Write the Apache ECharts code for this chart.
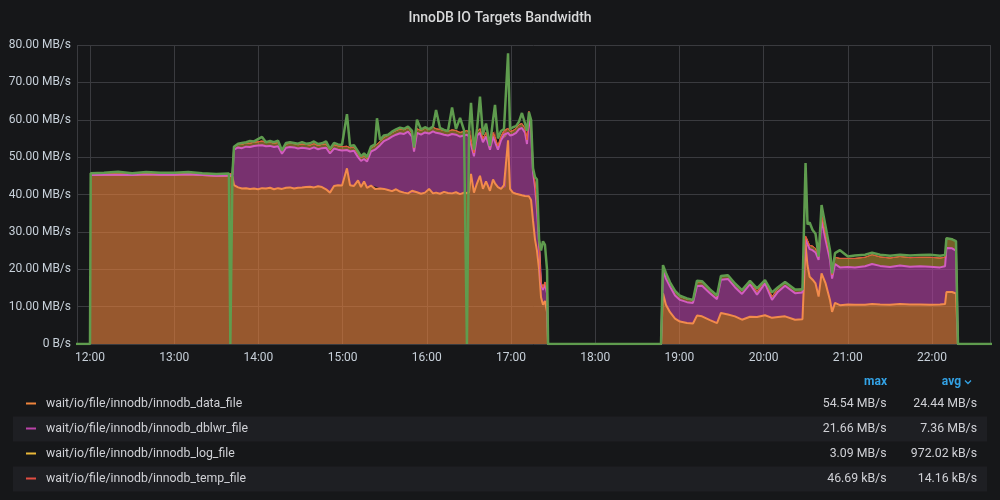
<!DOCTYPE html>
<html>
<head>
<meta charset="utf-8">
<script src="https://cdn.jsdelivr.net/npm/echarts@6/dist/echarts.min.js"></script>
<style>
html,body{margin:0;padding:0;background:#161719;}
#chart{width:1000px;height:500px;}
</style>
</head>
<body>
<div id="chart"></div>
<script>
// ---- data (MB/s) ----
const times = [
  // 12:00 - 13:42
  '11:50:00','12:00:00','12:00:30','12:10:00','12:20:00','12:30:00','12:40:00','12:50:00','13:00:00','13:10:00','13:20:00','13:30:00','13:39:00','13:40:00','13:41:30','13:42:36',
  // 13:45 - 15:00
  '13:45:30','13:48:18','13:51:12','13:54:00','13:56:54','13:59:42','14:02:36','14:05:24','14:08:18','14:11:06','14:14:00','14:16:48','14:19:42','14:22:30','14:25:24','14:28:12','14:31:06','14:33:54','14:36:48','14:39:36','14:42:30','14:45:18','14:48:12','14:51:00','14:53:54','14:56:42','14:59:36',
  // 15:00 - 16:30
  '15:03:06','15:05:18','15:08:06','15:11:00','15:13:06','15:15:18','15:17:24','15:20:12','15:23:06','15:24:30','15:26:42','15:29:30','15:32:24','15:35:12','15:38:06','15:40:54','15:43:48','15:46:36','15:49:30','15:50:54','15:53:00','15:55:54','15:58:42','16:01:36','16:04:24','16:06:36','16:09:24','16:12:18','16:15:06','16:18:00','16:20:48','16:23:42','16:26:30','16:28:36','16:30:06',
  // 16:30 - 17:26
  '16:31:30','16:33:36','16:35:48','16:37:54','16:40:00','16:42:12','16:45:00','16:47:12','16:48:36','16:50:42','16:52:54','16:55:00','16:56:24','16:57:54','16:59:18','17:01:24','17:03:36','17:05:42','17:07:48','17:10:00','17:11:24','17:12:48','17:14:18','17:15:42','17:17:06','17:18:30','17:20:00','17:21:24','17:22:48','17:24:12','17:25:42','17:26:24',
  // idle
  '18:46:54',
  // 18:48 - 20:28
  '18:48:18','18:50:24','18:53:18','18:56:54','19:00:24','19:05:24','19:09:42','19:12:30','19:16:06','19:21:48','19:26:48','19:29:36','19:34:36','19:39:36','19:44:36','19:50:18','19:55:18','20:01:00','20:06:00','20:10:18','20:15:18','20:22:24','20:27:42',
  // 20:30 - end
  '20:29:54','20:31:18','20:32:48','20:34:54','20:37:00','20:39:12','20:41:18','20:44:12','20:47:18','20:48:48','20:50:54','20:54:24','21:00:06','21:05:06','21:12:18','21:17:18','21:23:00','21:30:06','21:37:12','21:44:18','21:51:30','21:58:36','22:05:42','22:09:18','22:10:18','22:14:18','22:17:06','22:18:30','22:45:00'
];

const dataFile = [
  null,45.2,45.2,45.3,45.3,45.2,45.4,45.3,45.3,45.4,45.2,45.0,45.1,45.1,44.8,42.5,
  41.9,41.6,41.7,41.5,41.6,41.4,41.7,41.6,41.8,41.4,41.7,41.5,41.8,41.9,41.6,41.8,41.9,42.0,42.1,41.9,42.2,42.0,41.4,40.5,42.3,42.5,42.4,
  47.0,42.5,42.3,43.8,42.0,43.5,41.8,42.4,41.5,42.0,41.6,41.5,41.2,40.9,41.4,40.8,40.5,40.3,41.0,40.5,40.6,40.2,40.5,41.5,40.3,40.5,40.2,40.7,40.4,40.3,40.6,40.1,40.5,40.4,40.6,
  45.5,40.5,43.0,45.0,41.5,43.5,41.0,44.0,43.0,42.0,41.5,42.5,42.0,54.5,41.5,40.5,40.2,40.0,39.8,39.6,39.5,39.5,38.5,33.0,28.0,25.0,20.0,12.5,10.5,11.5,8.5,0,
  0,
  13.6,10.5,8.5,6.8,6.0,5.6,5.5,7.6,7.4,6.4,5.6,8.3,7.9,7.4,6.5,7.3,7.2,7.7,7.0,7.2,7.4,6.5,6.6,
  26.5,21.0,18.0,17.2,16.2,12.7,18.9,16.2,11.8,8.6,11.0,10.4,10.6,10.5,10.5,10.7,10.6,10.5,10.7,10.6,10.6,10.5,10.6,10.7,13.9,13.9,13.5,0,0
];

const dblwrFile = [
  null,0,0,0,0,0,0,0,0,0,0,0,0,0,0.5,9.5,
  10.7,10.8,11.1,11.2,11.4,11.7,11.5,11.3,11.2,11.3,11.2,9.4,10.7,10.8,11.0,10.5,10.6,10.4,10.1,10.7,9.9,10.4,11.1,10.5,10.0,9.5,9.4,
  4.9,9.0,9.4,6.2,7.0,6.0,7.0,9.1,10.5,10.5,11.6,12.8,13.6,14.6,14.6,15.6,15.7,16.5,14.5,11.0,15.9,15.8,16.1,14.8,16.6,16.0,16.1,15.3,15.4,15.9,15.4,15.4,15.3,15.6,14.9,
  10.5,9.7,12.8,11.5,12.5,12.0,11.0,11.5,13.0,10.0,13.0,13.5,13.5,2.0,14.3,15.5,16.3,17.5,18.0,16.9,14.0,21.5,18.5,13.0,14.0,11.0,7.0,3.5,4.0,4.5,5.0,0,
  0,
  6.2,7.0,6.9,6.2,5.8,5.6,5.5,7.9,8.2,7.2,6.4,8.9,9.5,7.8,6.9,8.7,6.0,8.5,4.8,6.8,8.2,7.1,7.2,
  1.5,6.5,7.4,7.9,8.3,9.8,14.3,11.6,10.7,8.9,10.4,10.1,10.0,10.0,10.3,10.7,10.3,10.1,10.3,10.1,10.2,10.2,9.9,10.1,11.8,11.7,11.5,0,0
];

const logFile = [
  null,0.4,0.4,0.4,0.5,0.4,0.4,0.4,0.4,0.5,0.4,0.4,0.4,0.4,0.4,0.8,
  1.0,1.0,1.0,1.0,1.0,1.0,1.1,1.0,1.0,1.0,1.0,0.9,1.0,1.0,1.0,1.0,1.0,1.0,1.0,1.0,1.0,1.0,1.0,0.9,1.0,1.0,1.0,
  1.0,1.0,1.0,0.9,0.8,0.9,0.8,1.0,1.0,1.0,1.0,1.0,1.0,1.0,1.1,1.1,1.1,1.1,1.0,0.9,1.1,1.1,1.1,1.1,1.1,1.1,1.1,1.1,1.1,1.1,1.1,1.1,1.1,1.1,1.1,
  1.1,0.9,1.0,1.1,1.0,1.1,0.9,1.1,1.1,1.0,1.1,1.1,1.1,1.2,1.1,1.1,1.2,1.2,1.2,1.2,1.1,1.2,1.2,1.0,1.0,1.0,0.8,0.6,0.6,0.6,0.5,0,
  0,
  1.1,1.1,1.0,1.0,0.9,0.8,0.8,1.1,1.0,0.9,0.8,1.0,1.0,0.9,0.9,0.9,0.9,0.9,0.9,0.9,0.9,0.9,0.9,
  0.9,0.9,1.0,1.1,1.1,0.9,1.5,1.4,1.3,1.0,1.8,2.4,2.3,2.4,2.4,2.5,2.4,2.4,2.4,2.4,2.4,2.5,2.5,2.4,2.6,2.5,2.5,0,0
];

const tempFile = [
  null,0.01,0.01,0.01,0.01,0.01,0.01,0.01,0.01,0.01,0.01,0.01,0.01,0.01,0.01,0.02,
  0.02,0.02,0.02,0.02,0.02,0.02,0.02,0.02,0.02,0.02,0.02,0.02,0.02,0.02,0.02,0.02,0.02,0.02,0.02,0.02,0.02,0.02,0.02,0.02,0.02,0.02,0.02,
  0.03,0.02,0.02,0.02,0.02,0.02,0.02,0.02,0.02,0.03,0.02,0.02,0.02,0.02,0.02,0.02,0.02,0.02,0.02,0.02,0.02,0.02,0.02,0.02,0.02,0.03,0.02,0.02,0.02,0.03,0.02,0.02,0.02,0.02,0.02,
  0.03,0.02,0.02,0.04,0.02,0.02,0.02,0.02,0.03,0.02,0.02,0.02,0.02,0.05,0.02,0.02,0.02,0.02,0.02,0.02,0.02,0.02,0.02,0.02,0.01,0.01,0.01,0.01,0.01,0.01,0.01,0,
  0,
  0.01,0.01,0.01,0.01,0.01,0.01,0.01,0.01,0.01,0.01,0.01,0.01,0.01,0.01,0.01,0.01,0.01,0.01,0.01,0.01,0.01,0.01,0.01,
  0.02,0.01,0.01,0.01,0.01,0.01,0.01,0.01,0.01,0.01,0.01,0.01,0.01,0.01,0.01,0.01,0.01,0.01,0.01,0.01,0.01,0.01,0.01,0.01,0.01,0.01,0.01,0,0
];

// total bandwidth line drawn on top
const totalLine = [
  0,0,45.7,45.8,46.1,45.7,46.0,45.8,45.8,46.0,45.7,45.5,45.6,0,45.6,52.8,
  53.6,53.8,54.0,54.3,54.2,54.8,55.4,54.0,54.3,54.0,54.4,51.8,53.8,54.0,53.8,53.6,54.0,53.6,53.7,54.2,53.5,53.7,54.2,52.2,53.8,53.4,53.3,
  61.5,53.0,53.2,51.5,50.2,51.0,50.0,52.8,53.4,60.4,54.6,55.8,56.0,56.8,57.4,57.9,57.6,58.2,57.0,52.6,60.0,57.4,58.0,57.5,58.2,62.6,57.8,57.3,57.0,63.3,57.5,60.5,57.2,0,57.0,
  64.5,52.0,57.6,66.2,56.0,59.0,53.0,60.0,64.0,55.0,57.0,57.5,57.5,77.8,57.5,58.0,58.3,59.5,61.8,59.0,57.0,62.0,60.0,47.0,44.7,44.0,28.0,25.0,27.5,26.5,19.8,0,
  0,
  21.1,19.0,16.5,14.2,12.9,12.2,11.8,16.9,16.8,14.6,13.0,18.2,18.4,16.2,14.4,16.9,14.9,17.1,13.8,15.2,16.6,14.6,14.6,
  48.4,32.0,32.5,30.5,29.5,23.4,37.2,31.4,25.1,18.9,24.3,25.1,23.4,23.7,23.9,24.4,23.9,23.6,23.9,23.7,23.8,23.9,23.6,23.8,28.3,28.0,27.5,0,0
];

const seriesNames = [
  'wait/io/file/innodb/innodb_data_file',
  'wait/io/file/innodb/innodb_dblwr_file',
  'wait/io/file/innodb/innodb_log_file',
  'wait/io/file/innodb/innodb_temp_file'
];
const legendMax = ['54.54 MB/s','21.66 MB/s','3.09 MB/s','46.69 kB/s'];
const legendAvg = ['24.44 MB/s','7.36 MB/s','972.02 kB/s','14.16 kB/s'];
const titleText = 'InnoDB IO Targets Bandwidth';

// ---- helpers ----
function toMs(t){
  const p = t.split(':').map(Number);
  return new Date(2021, 2, 10, p[0], p[1], p[2] || 0).getTime();
}
function pairs(arr){ return times.map((t,i)=>[toMs(t), arr[i]]); }

const colors = ['#EF843C','#BA43A9','#EAB839','#E24D42'];
const lineColors = ['#f28b4c','#d25cc0','#EAB839','#E24D42'];
const totalColor = '#5f9c4e';
const seriesArrays = [dataFile, dblwrFile, logFile, tempFile];

const stackSeries = seriesArrays.map((arr,i)=>({
  name: seriesNames[i],
  type: 'line',
  stack: 'io',
  data: pairs(arr),
  showSymbol: false,
  symbol: 'none',
  connectNulls: false,
  lineStyle: { color: lineColors[i], width: i < 2 ? 2 : 1 },
  itemStyle: { color: colors[i] },
  areaStyle: { color: colors[i], opacity: i === 2 ? 0.45 : 0.6 },
  emphasis: { disabled: true },
  animation: false,
  z: 2
}));

const totalSeries = {
  name: 'total',
  type: 'line',
  data: pairs(totalLine),
  showSymbol: false,
  symbol: 'none',
  lineStyle: { color: totalColor, width: 2.5 },
  itemStyle: { color: totalColor },
  emphasis: { disabled: true },
  animation: false,
  z: 5
};

// ---- legend table (graphic) ----
const rowY = [404, 429, 454, 479];
const textColor = '#d0d1d6';
const linkColor = '#33a2e5';
const graphic = [];
[1,3].forEach(i=>{
  graphic.push({type:'rect', z:0, shape:{x:13, y:rowY[i]-12.5, width:974, height:25}, style:{fill:'#1e1f23'}});
});
graphic.push({type:'text', z:2, style:{text:'max', x:887, y:382, fill:linkColor, font:'bold 12px Roboto', textAlign:'right', textVerticalAlign:'middle'}});
graphic.push({type:'text', z:2, style:{text:'avg', x:961, y:382, fill:linkColor, font:'bold 12px Roboto', textAlign:'right', textVerticalAlign:'middle'}});
graphic.push({type:'polyline', z:2, shape:{points:[[965,380.5],[968,383.5],[971,380.5]]}, style:{stroke:linkColor, lineWidth:1.3, fill:null}});
seriesNames.forEach((n,i)=>{
  graphic.push({type:'line', z:2, shape:{x1:26, y1:rowY[i]-0.5, x2:36, y2:rowY[i]-0.5}, style:{stroke:colors[i], lineWidth:2}});
  graphic.push({type:'text', z:2, style:{text:n, x:46, y:rowY[i], fill:textColor, font:'12.3px Roboto', textAlign:'left', textVerticalAlign:'middle'}});
  graphic.push({type:'text', z:2, style:{text:legendMax[i], x:886.5, y:rowY[i], fill:textColor, font:'12.3px Roboto', textAlign:'right', textVerticalAlign:'middle'}});
  graphic.push({type:'text', z:2, style:{text:legendAvg[i], x:977, y:rowY[i], fill:textColor, font:'12.3px Roboto', textAlign:'right', textVerticalAlign:'middle'}});
});

const gridColor = '#3a3b3f';
const chart = echarts.init(document.getElementById('chart'), null, {renderer:'canvas'});
chart.setOption({
  backgroundColor: '#161719',
  animation: false,
  textStyle: { fontFamily: 'Roboto' },
  title: {
    text: titleText,
    left: 'center',
    top: 6,
    textStyle: { color: '#d8d9da', fontSize: 14, fontWeight: 500, fontFamily: 'Roboto' }
  },
  legend: { show: false },
  grid: { left: 77, right: 10, top: 45, bottom: 156, containLabel: false },
  xAxis: {
    type: 'time',
    min: toMs('11:50:44'),
    max: toMs('22:41:20'),
    minInterval: 3600 * 1000,
    maxInterval: 3600 * 1000,
    axisLine: { show: false },
    axisTick: { show: false },
    axisLabel: { color: '#c7d0d9', fontSize: 12, margin: 8, formatter: '{HH}:{mm}', hideOverlap: false },
    splitLine: { show: true, lineStyle: { color: gridColor, width: 1 } }
  },
  yAxis: {
    type: 'value',
    min: 0,
    max: 80,
    interval: 10,
    axisLine: { show: false },
    axisTick: { show: false },
    axisLabel: {
      color: '#c7d0d9', fontSize: 12, margin: 6,
      formatter: v => v === 0 ? '0 B/s' : v.toFixed(2) + ' MB/s'
    },
    splitLine: { show: true, lineStyle: { color: gridColor, width: 1 } }
  },
  graphic: graphic,
  series: stackSeries.concat([totalSeries])
});
</script>
</body>
</html>
